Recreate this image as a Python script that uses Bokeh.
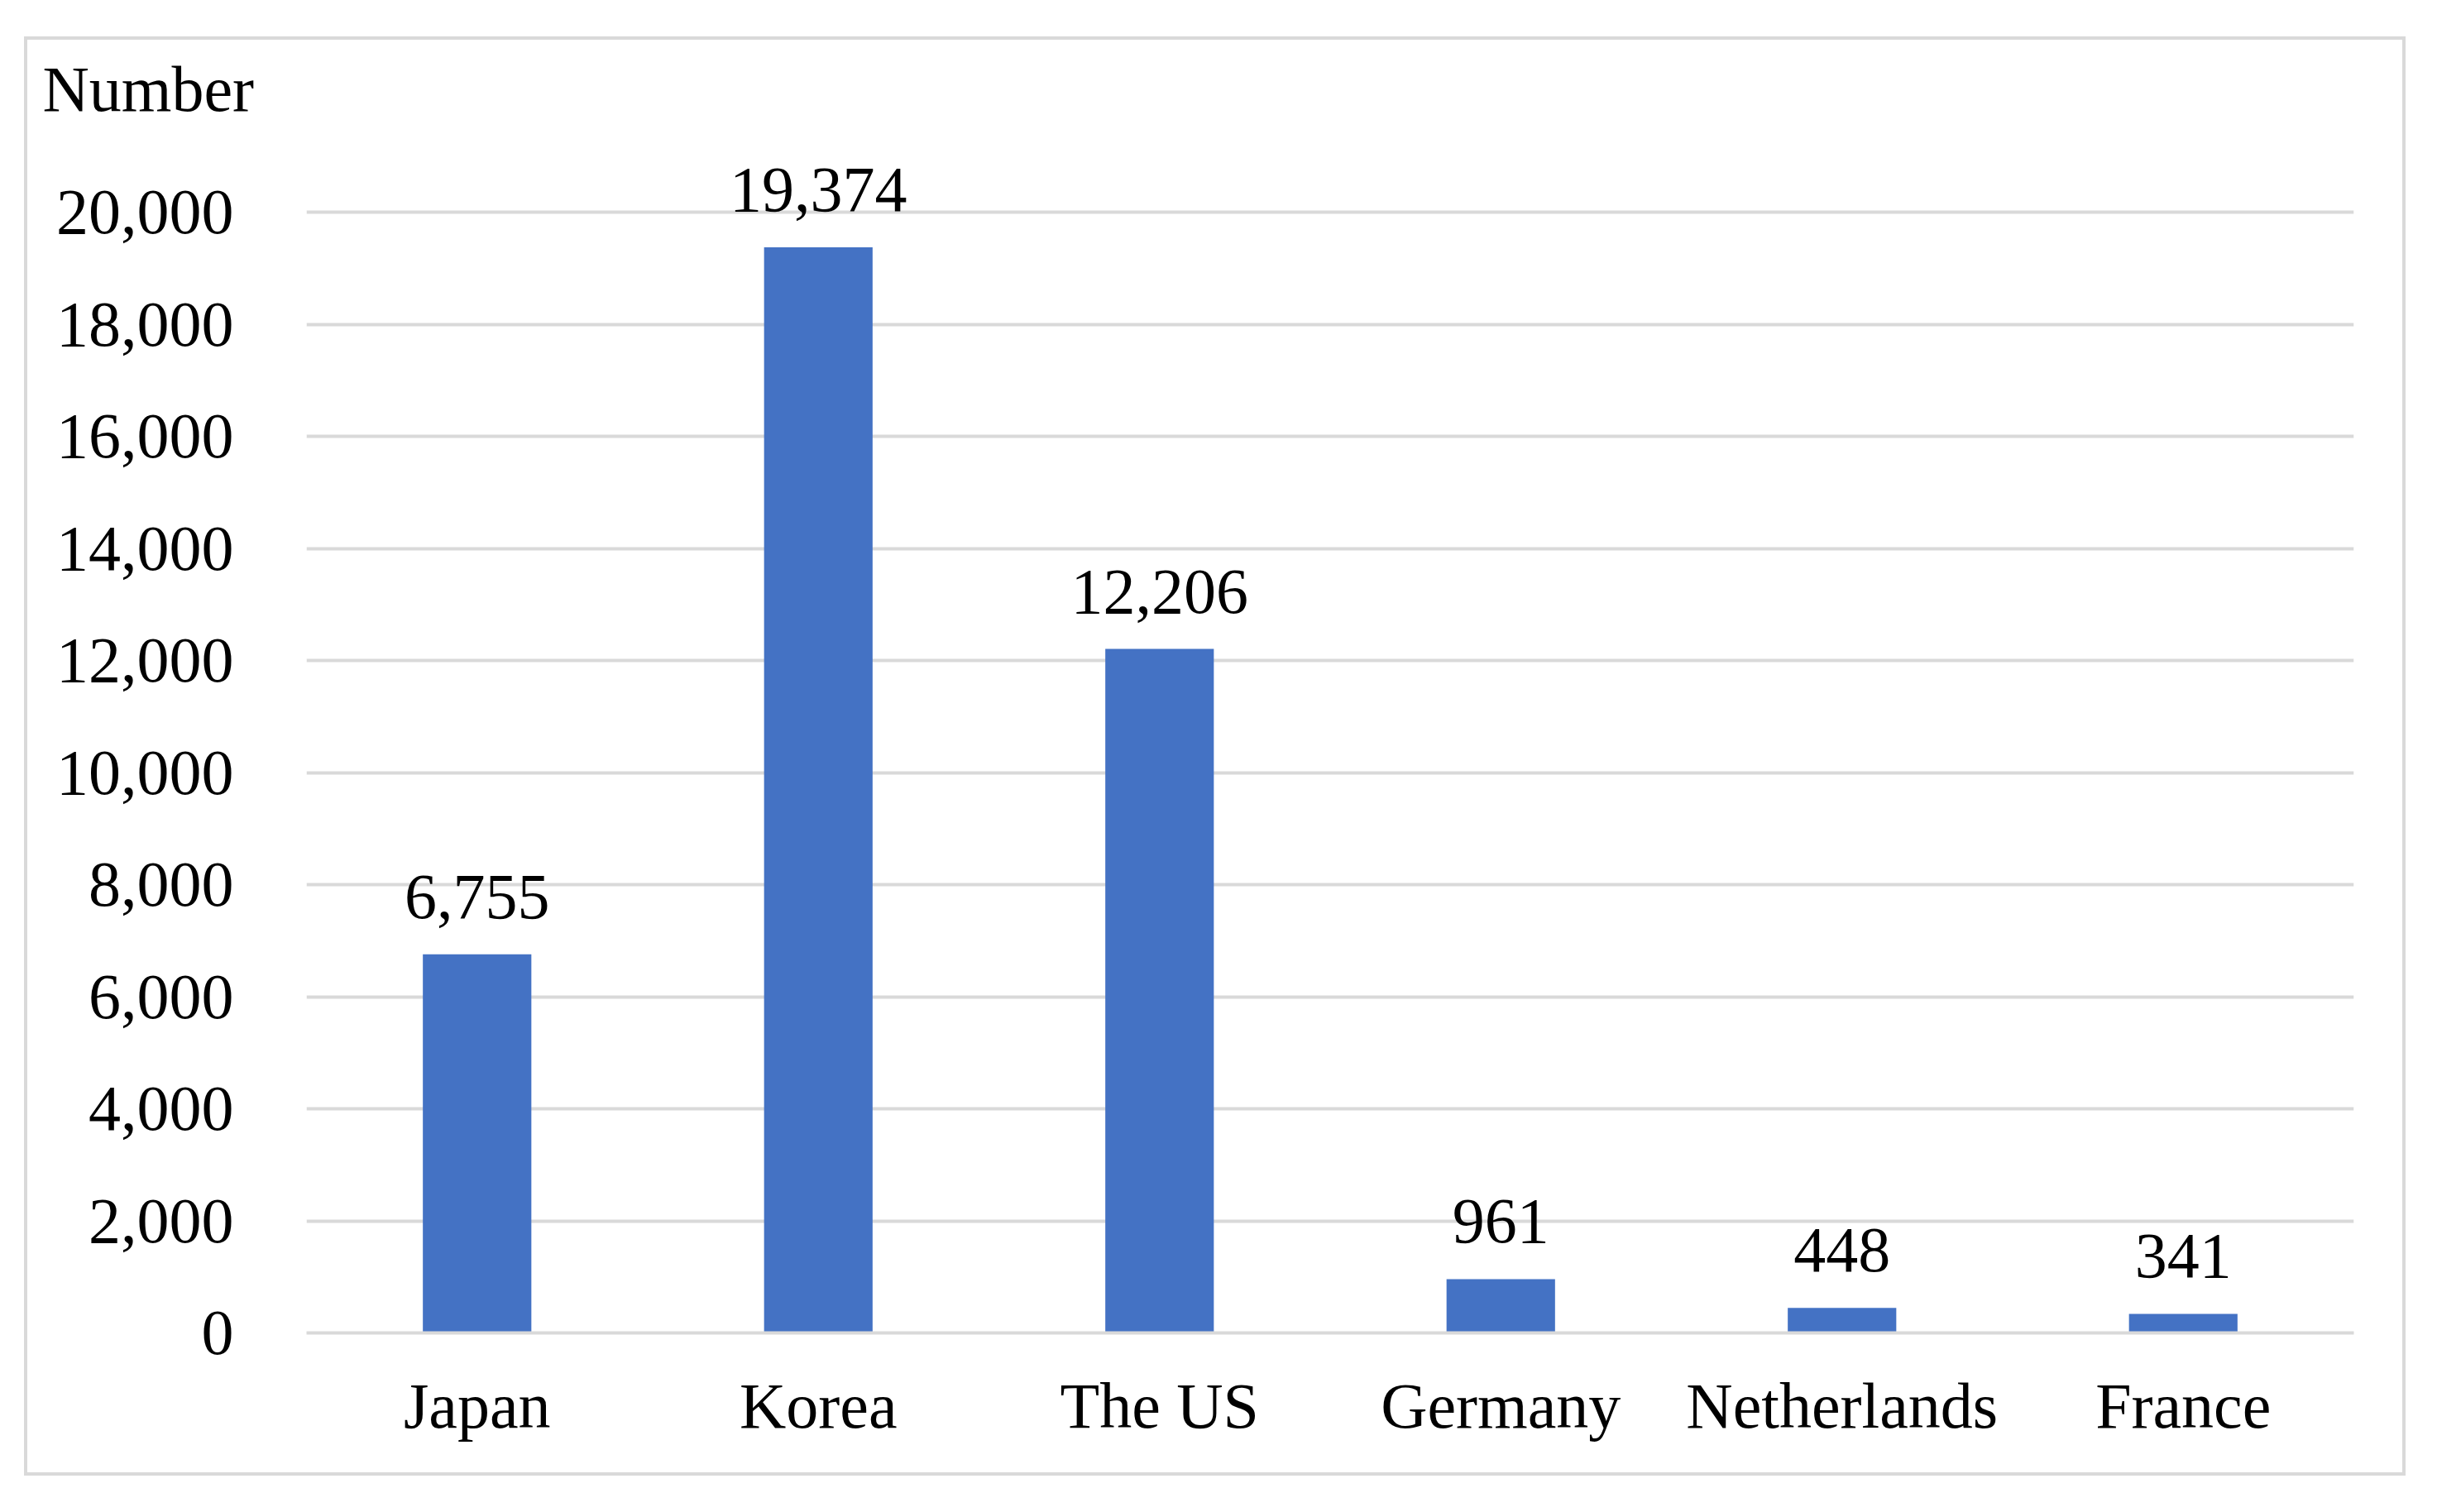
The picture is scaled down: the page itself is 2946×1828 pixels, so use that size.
from bokeh.plotting import figure
from bokeh.models import ColumnDataSource, Range1d, FactorRange, NumeralTickFormatter, LabelSet, Title, FixedTicker
from bokeh.embed import file_html
from bokeh.resources import INLINE

countries = ["Japan", "Korea", "The US", "Germany", "Netherlands", "France"]
values = [6755, 19374, 12206, 961, 448, 341]
y_ticks = list(range(0, 20001, 2000))
y_title = "Number"

FONT = "Liberation Serif"
FS = "78px"
GRID = "#d9d9d9"

src = ColumnDataSource(dict(country=countries, value=values,
                            label=[f"{v:,}" for v in values]))

# y range top extended so the frame also holds the value labels above the 20,000 line
Y_TOP = 20000 * 1461 / 1355

p = figure(width=2879, height=1740, x_range=FactorRange(*countries, range_padding=0),
           y_range=Range1d(0, Y_TOP), output_backend="svg", toolbar_location=None,
           min_border_left=337, min_border_right=67, min_border_top=102, min_border_bottom=177,
           margin=(44, 0, 0, 29),
           styles={"border": f"4px solid {GRID}"})
p.outline_line_color = None
p.background_fill_color = "white"
p.border_fill_color = "white"

p.vbar(x="country", top="value", width=0.318, source=src, fill_color="#4472C4", line_color=None)

p.yaxis.ticker = FixedTicker(ticks=y_ticks)
p.yaxis.formatter = NumeralTickFormatter(format="0,0")
p.yaxis.axis_line_color = None
p.yaxis.major_tick_line_color = None
p.yaxis.minor_tick_line_color = None
p.yaxis.major_tick_out = 0
p.yaxis.major_label_standoff = 88
p.yaxis.major_label_text_font = FONT
p.yaxis.major_label_text_font_size = FS
p.yaxis.major_label_text_color = "black"

p.xaxis.axis_line_color = GRID
p.xaxis.axis_line_width = 4
p.xaxis.major_tick_line_color = None
p.xaxis.minor_tick_line_color = None
p.xaxis.major_tick_out = 0
p.xaxis.major_label_standoff = 44
p.xaxis.major_label_text_font = FONT
p.xaxis.major_label_text_font_size = FS
p.xaxis.major_label_text_color = "black"

p.xgrid.grid_line_color = None
p.ygrid.grid_line_color = GRID
p.ygrid.grid_line_width = 4

labels = LabelSet(x="country", y="value", text="label", source=src, y_offset=44,
                  text_align="center", text_baseline="alphabetic",
                  text_font=FONT, text_font_size=FS, text_color="black")
p.add_layout(labels)

p.add_layout(Title(text=y_title, align="left", offset=-319, standoff=0,
                   text_font=FONT, text_font_size=FS, text_font_style="normal",
                   text_color="black"), "above")

open("out.html", "w").write(file_html(p, INLINE))
